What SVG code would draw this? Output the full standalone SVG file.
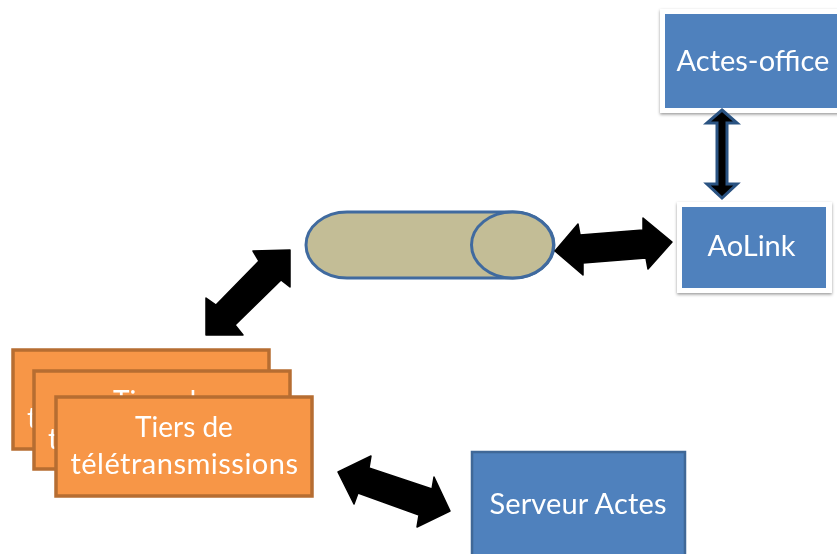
<svg xmlns="http://www.w3.org/2000/svg" width="837" height="554" viewBox="0 0 837 554">
<style>
.orange{fill:#f79646;stroke:#b66d31;stroke-width:3.500}
.blue{fill:#4f81bd}
.edge{stroke:#3f6797;stroke-width:2.500}
.frame{fill:#fff;filter:url(#shadow)}
.label{font-family:"Lato","Liberation Sans",sans-serif;font-size:29px;fill:#fff;text-anchor:middle}
.small{font-size:28px}
.wide{letter-spacing:.5px}
.arrow{fill:#000;stroke:#000;stroke-width:1.500;stroke-linejoin:round}
.thin{fill:#000;stroke:#2a5282;stroke-width:3}
.cyl{fill:#c3bd96;stroke:#3f6b9f;stroke-width:3}
</style>
<defs>
<filter id="soft" x="-5%" y="-5%" width="110%" height="110%"><feGaussianBlur stdDeviation="0.6"/></filter>
<filter id="shadow" x="-10%" y="-10%" width="120%" height="120%"><feDropShadow dx="0" dy="1.500" stdDeviation="1.500" flood-color="#000" flood-opacity="0.4"/></filter>
</defs>
<rect width="837" height="554" fill="#fff"/>
<g filter="url(#soft)">
<g id="tiers-1">
<rect class="orange" x="13" y="350" width="256" height="99"/>
<text class="label small" x="141" y="393">Tiers de</text>
<text class="label wide" x="141" y="428">télétransmissions</text>
</g>
<g id="tiers-2">
<rect class="orange" x="34" y="371" width="256" height="98"/>
<text class="label small" x="162" y="411">Tiers de</text>
<text class="label wide" x="162" y="449">télétransmissions</text>
</g>
<g id="tiers-3">
<rect class="orange" x="56" y="397" width="256" height="99"/>
<text class="label small" x="184" y="437">Tiers de</text>
<text class="label wide" x="184.500" y="474">télétransmissions</text>
</g>
<g id="actes-office">
<rect class="frame" x="660" y="9" width="190" height="104"/>
<rect class="blue" x="665" y="14" width="180" height="94"/>
<text class="label" x="753" y="71">Actes-office</text>
</g>
<g id="aolink">
<rect class="frame" x="677" y="202" width="155" height="91"/>
<rect class="blue" x="682" y="207" width="144" height="81"/>
<text class="label" x="751.500" y="256">AoLink</text>
</g>
<g id="serveur-actes">
<rect class="blue edge" x="472" y="452" width="213" height="110"/>
<text class="label" x="578" y="514" style="letter-spacing:.15px">Serveur Actes</text>
</g>
<g id="cylindre">
<rect class="cyl" x="306" y="212" width="248" height="66" rx="41" ry="33"/>
<ellipse class="cyl" cx="512.500" cy="245" rx="41" ry="33"/>
</g>
<g id="connectors">
<polygon class="thin" points="722,110 737,123 727,123 727,184 737,184 722,198 707,184 717,184 717,123 707,123"/>
<polygon class="arrow" points="555,251 578,224 580,235 643,230 643,218 672,242 648,269 646,258 583,263 583,275"/>
<polygon class="arrow" points="290,250 290,287 281,280 235,325 243,335 206,335 206,298 216,305 259,261 253,251"/>
<polygon class="arrow" points="338,472 371,456 369,468 432,489 434,477 450,511 417,527 419,515 358,493 354,504"/>
</g>
</g>
</svg>
